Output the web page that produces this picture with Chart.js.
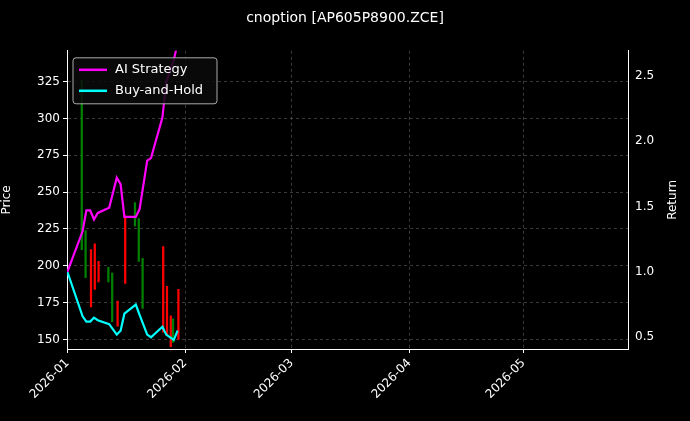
<!DOCTYPE html>
<html>
<head>
<meta charset="utf-8">
<script src="https://cdn.jsdelivr.net/npm/chart.js@4/dist/chart.umd.min.js"></script>
<style>
  html, body { margin: 0; padding: 0; background: #000; }
  #wrap { width: 690px; height: 421px; }
</style>
</head>
<body>
<div id="wrap"><canvas id="chart"></canvas></div>
<script>
// Candles: date (day in Jan 2026), low, high, up (green) or down (red)
const candleDays = [5, 6, 7, 8, 9, 12, 13, 14, 16, 19, 20, 21, 26, 27, 28, 29, 30];
const candleLow  = [211, 192, 172, 184, 189, 189, 162, 159, 188, 227, 203, 171, 155, 153, 145, 148, 150];
const candleHigh = [326, 224, 211, 215, 203, 199, 195, 176, 234, 243, 232, 205, 213, 186, 166, 164, 184];
const candleUp   = [1, 1, 0, 0, 0, 1, 1, 0, 0, 1, 1, 1, 0, 0, 0, 1, 0];

// Return lines
const lineDays   = [1, 5, 6, 7, 8, 9, 12, 14, 15, 16, 19, 20, 22, 23, 26, 27, 29, 30];
const aiReturn   = [1.0, 1.31, 1.47, 1.47, 1.40, 1.45, 1.49, 1.72, 1.67, 1.42, 1.42, 1.48, 1.85, 1.87, 2.18, 2.45, 2.62, 2.75];
const bhReturn   = [1.0, 0.66, 0.62, 0.62, 0.65, 0.63, 0.60, 0.52, 0.55, 0.68, 0.75, 0.67, 0.52, 0.50, 0.58, 0.52, 0.48, 0.55];

// Month starts as day offsets from 2026-01-01 (day 1)
const monthTicks  = [1, 32, 60, 91, 121];
const monthLabels = ['2026-01', '2026-02', '2026-03', '2026-04', '2026-05'];

const GREEN = '#008000';
const RED = '#ff0000';
const FONT = 'DejaVu Sans';

const greenBars = [], redBars = [];
candleDays.forEach((d, i) => {
    const pt = { x: d, y: [candleLow[i], candleHigh[i]] };
    (candleUp[i] ? greenBars : redBars).push(pt);
});

// Legend box in the top-left of the plot, plus the right axis title
const overlayPlugin = {
    id: 'overlay',
    afterDraw(chart) {
        const { ctx, chartArea } = chart;
        const x = chartArea.left + 6, y = chartArea.top + 7, w = 144, h = 46;
        ctx.save();
        ctx.fillStyle = 'rgba(10,10,10,0.85)';
        ctx.strokeStyle = '#aaa';
        ctx.lineWidth = 1;
        ctx.beginPath();
        ctx.roundRect(x, y, w, h, 3);
        ctx.fill();
        ctx.stroke();
        const items = [['AI Strategy', '#ff00ff'], ['Buy-and-Hold', '#00ffff']];
        ctx.font = '13px "' + FONT + '"';
        ctx.textBaseline = 'middle';
        items.forEach(([label, color], i) => {
            const ly = y + 12 + i * 21;
            ctx.strokeStyle = color;
            ctx.lineWidth = 2.5;
            ctx.beginPath();
            ctx.moveTo(x + 6, ly);
            ctx.lineTo(x + 34, ly);
            ctx.stroke();
            ctx.fillStyle = '#fff';
            ctx.fillText(label, x + 42, ly);
        });

        // "Return" reads bottom-to-top like the left title
        ctx.translate(673, (chartArea.top + chartArea.bottom) / 2);
        ctx.rotate(-Math.PI / 2);
        ctx.textAlign = 'center';
        ctx.font = '12px "' + FONT + '"';
        ctx.fillText('Return', 0, 0);
        ctx.restore();
    }
};

const gridColor = 'rgba(128,128,128,0.45)';

new Chart(document.getElementById('chart'), {
    data: {
        datasets: [
            { type: 'line', label: 'AI Strategy', data: lineDays.map((d, i) => ({ x: d, y: aiReturn[i] })),
              borderColor: '#ff00ff', borderWidth: 2.2, pointRadius: 0, yAxisID: 'yR', order: 0 },
            { type: 'line', label: 'Buy-and-Hold', data: lineDays.map((d, i) => ({ x: d, y: bhReturn[i] })),
              borderColor: '#00ffff', borderWidth: 2.2, pointRadius: 0, yAxisID: 'yR', order: 0 },
            { type: 'bar', data: greenBars, backgroundColor: GREEN, barThickness: 1.6, yAxisID: 'y', order: 1 },
            { type: 'bar', data: redBars, backgroundColor: RED, barThickness: 1.6, yAxisID: 'y', order: 1 }
        ]
    },
    options: {
        responsive: true,
        maintainAspectRatio: false,
        animation: false,
        plugins: {
            legend: { display: false },
            tooltip: { enabled: false },
            title: {
                display: true, text: 'cnoption [AP605P8900.ZCE]', color: '#fff',
                font: { family: FONT, size: 14, weight: 'normal' },
                padding: { top: 10, bottom: 24 }
            }
        },
        scales: {
            x: {
                type: 'linear', min: 0.9, max: 148.5, offset: false,
                grid: { color: gridColor, tickColor: '#fff', tickLength: 4, offset: false },
                border: { color: '#fff', dash: [3, 3] },
                afterBuildTicks: s => { s.ticks = monthTicks.map(v => ({ value: v })); },
                afterFit: s => { s.height = 72; },
                ticks: {
                    color: '#fff', maxRotation: 45, minRotation: 45, autoSkip: false,
                    font: { family: FONT, size: 12 },
                    callback: v => monthLabels[monthTicks.indexOf(v)] || ''
                }
            },
            y: {
                position: 'left', min: 143.5, max: 346,
                grid: { color: gridColor, tickColor: '#fff', tickLength: 4 },
                border: { color: '#fff', dash: [3, 3] },
                afterBuildTicks: s => { s.ticks = [150, 175, 200, 225, 250, 275, 300, 325].map(v => ({ value: v })); },
                afterFit: s => { s.width = 67; },
                title: { display: true, text: 'Price', color: '#fff', font: { family: FONT, size: 12 }, padding: { top: 0, bottom: 2 } },
                ticks: { color: '#fff', font: { family: FONT, size: 12 } }
            },
            yR: {
                position: 'right', min: 0.41, max: 2.69,
                grid: { display: false, tickColor: '#fff', tickLength: 4 },
                border: { color: '#fff' },
                afterBuildTicks: s => { s.ticks = [0.5, 1.0, 1.5, 2.0, 2.5].map(v => ({ value: v })); },
                afterFit: s => { s.width = 62; },
                ticks: { color: '#fff', font: { family: FONT, size: 12 }, callback: v => v.toFixed(1) }
            }
        }
    },
    plugins: [overlayPlugin, {
        id: 'bg',
        beforeDraw(chart) {
            const { ctx } = chart;
            ctx.save();
            ctx.fillStyle = '#000';
            ctx.fillRect(0, 0, chart.width, chart.height);
            ctx.restore();
        }
    }]
});
</script>
</body>
</html>
